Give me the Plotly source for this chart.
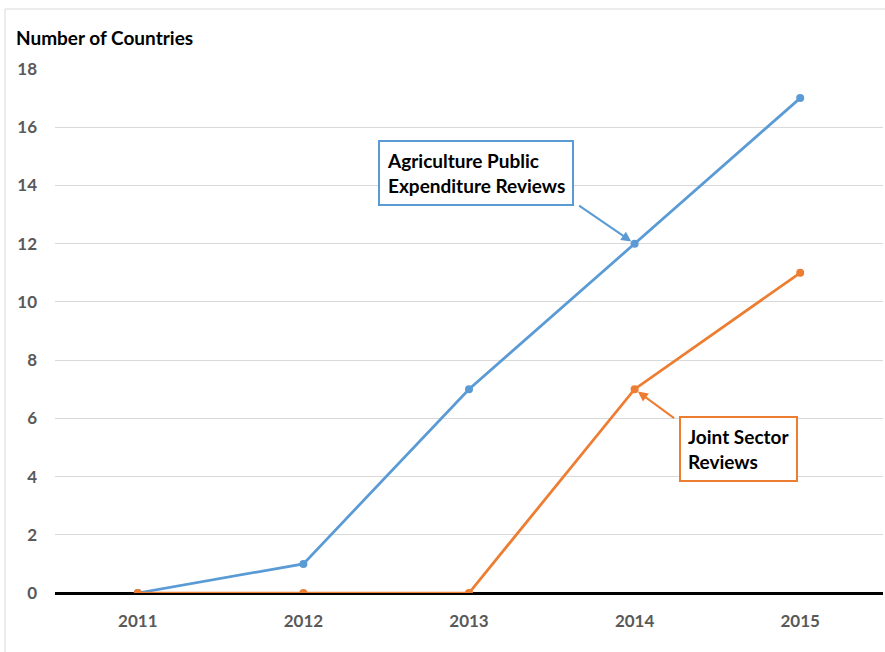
import plotly.graph_objects as go

years = ["2011", "2012", "2013", "2014", "2015"]
aper = [0, 1, 7, 12, 17]          # Agriculture Public Expenditure Reviews
jsr = [0, 0, 0, 7, 11]            # Joint Sector Reviews
y_ticks = [0, 2, 4, 6, 8, 10, 12, 14, 16, 18]

BLUE = "#5B9BD5"
ORANGE = "#ED7D31"
FONT = "Lato, Carlito, Calibri, sans-serif"

fig = go.Figure()
fig.add_trace(go.Scatter(x=years, y=aper, mode="lines+markers",
                         line=dict(color=BLUE, width=2.75),
                         marker=dict(size=8, color=BLUE),
                         name="Agriculture Public Expenditure Reviews"))
fig.add_trace(go.Scatter(x=years, y=jsr, mode="lines+markers",
                         line=dict(color=ORANGE, width=2.75),
                         marker=dict(size=8, color=ORANGE),
                         name="Joint Sector Reviews"))

i2014 = years.index("2014")


def callout(yval, text, color, box_dx, box_dy, arrow_dx, arrow_dy):
    # leader arrow from the box corner to the point
    fig.add_annotation(x=i2014, y=yval, xref="x", yref="y",
                       ax=arrow_dx, ay=arrow_dy, axref="pixel", ayref="pixel",
                       text="", showarrow=True, arrowhead=2, arrowsize=1,
                       arrowwidth=2, arrowcolor=color, standoff=4)
    # framed label
    fig.add_annotation(x=i2014, y=yval, xref="x", yref="y",
                       xshift=box_dx, yshift=box_dy, showarrow=False,
                       text=text, align="left",
                       bordercolor=color, borderwidth=2, borderpad=7,
                       bgcolor="white",
                       font=dict(family=FONT, size=19, color="black"))


callout(aper[i2014], "<b>Agriculture Public<br>Expenditure Reviews</b>", BLUE,
        -159, 71, -57, -39)
callout(jsr[i2014], "<b>Joint Sector<br>Reviews</b>", ORANGE,
        104, -60, 41, 30)

# Axis title placed above the value axis
fig.add_annotation(xref="paper", yref="paper", x=-0.049, y=1.0,
                   yshift=32, xanchor="left", yanchor="middle",
                   text="<b>Number of Countries</b>", showarrow=False,
                   font=dict(family=FONT, size=19, color="black"))

# Thin outer frame of the chart area
fig.add_shape(type="rect", xref="paper", yref="paper",
              x0=-0.0604, x1=1.2, y0=-0.3, y1=1.1145,
              line=dict(color="#d9d9d9", width=1), layer="below")

fig.update_xaxes(type="category", range=[-0.5, 4.5], showgrid=False,
                 showline=False, zeroline=False, ticks="",
                 tickfont=dict(family=FONT, size=17, color="#595959", weight="bold"),
                 ticklabelstandoff=16)
fig.update_yaxes(range=[0, 18], tickvals=y_ticks, showgrid=True,
                 gridcolor="#d9d9d9", gridwidth=1, zeroline=True,
                 zerolinecolor="black", zerolinewidth=2.5, showline=False,
                 tickfont=dict(family=FONT, size=17, color="#595959", weight="bold"),
                 ticklabelstandoff=17)

fig.update_layout(width=885, height=652, showlegend=False,
                  margin=dict(l=55, r=2, t=69, b=59),
                  plot_bgcolor="white", paper_bgcolor="white",
                  font=dict(family=FONT))

fig.write_html("out.html")
